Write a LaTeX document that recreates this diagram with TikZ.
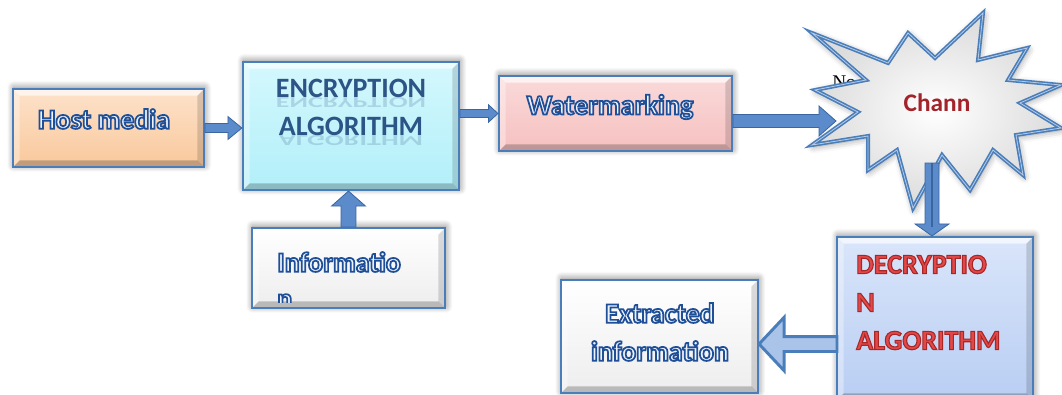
\documentclass[tikz,border=0pt]{standalone}
\usepackage{fontspec}
\setmainfont{Carlito}
\newfontfamily\notefont{Liberation Serif}
\usetikzlibrary{calc,shadows.blur}

\definecolor{frameblue}{HTML}{4A7EBB}
\definecolor{arrowfill}{HTML}{5B8BCB}
\definecolor{arrowedge}{HTML}{3A659E}
\definecolor{arrowlight}{HTML}{A9C4E8}
\definecolor{paleink}{HTML}{EEF4FF}
\definecolor{peach}{HTML}{F9C89C}
\definecolor{peachtop}{HTML}{FDE2CA}
\definecolor{cyanfill}{HTML}{B2EFF9}
\definecolor{cyantop}{HTML}{D4F8FD}
\definecolor{pinkfill}{HTML}{F6C0C0}
\definecolor{pinktop}{HTML}{FADADA}
\definecolor{bluefill}{HTML}{B9CEF3}
\definecolor{bluetop}{HTML}{D9E5FA}
\definecolor{encink}{HTML}{2D5486}
\definecolor{chanred}{HTML}{A3232B}
\definecolor{decred}{HTML}{E24848}

% outlined lettering: stroke colour (r g b), stroke width, text
\newcommand{\outlined}[3]{%
  \special{pdf:literal direct #1 RG 2 Tr #2 w}#3\special{pdf:literal direct 0 Tr 0.4 w}}
\newcommand{\blueoutline}[1]{\outlined{0.12 0.31 0.59}{1.3}{#1}}
\newcommand{\redoutline}[1]{\outlined{0.66 0.15 0.15}{0.8}{#1}}

% block arrow: [style]{tail}{tip}{half body}{half head}{head length}
\newcommand{\blockarrow}[6][]{%
  \path (#2) coordinate (ba-s) (#3) coordinate (ba-e);
  \path ($(ba-e)!#6!(ba-s)$) coordinate (ba-h);
  \filldraw[arrowbody,#1]
    ($(ba-s)!#4!90:(ba-e)$) -- ($(ba-h)!#4!-90:(ba-s)$) --
    ($(ba-h)!#5!-90:(ba-s)$) -- (ba-e) -- ($(ba-h)!#5!90:(ba-s)$) --
    ($(ba-h)!#4!90:(ba-s)$) -- ($(ba-s)!#4!-90:(ba-e)$) -- cycle;
}

\tikzset{
  boxshadow/.style={blur shadow={shadow xshift=0.6pt, shadow yshift=1.2pt,
      shadow blur radius=5pt, shadow blur steps=10, shadow opacity=50}},
  bevel/.style={path picture={
      \path (path picture bounding box.south west) coordinate (bvsw)
            (path picture bounding box.north east) coordinate (bvne)
            (path picture bounding box.north west) coordinate (bvnw)
            (path picture bounding box.south east) coordinate (bvse);
      \path ($(bvsw)+(5pt,5pt)$) coordinate (bvisw)
            ($(bvne)+(-5pt,-5pt)$) coordinate (bvine);
      \path (bvisw |- bvine) coordinate (bvinw) (bvine |- bvisw) coordinate (bvise);
      \fill[white,opacity=.65] (bvnw) -- (bvne) -- (bvine) -- (bvinw) -- cycle;
      \fill[white,opacity=.35] (bvnw) -- (bvinw) -- (bvisw) -- (bvsw) -- cycle;
      \fill[black,opacity=.22] (bvsw) -- (bvisw) -- (bvise) -- (bvse) -- cycle;
      \fill[black,opacity=.14] (bvse) -- (bvise) -- (bvine) -- (bvne) -- cycle;
    }},
  bevelbox/.style 2 args={draw=frameblue, line width=1.6pt, inner sep=0pt,
      top color=#2, bottom color=#1, boxshadow, bevel},
  outtext/.style={font=\fontsize{21}{28.5}\selectfont\bfseries, text=paleink,
      align=center, inner sep=0pt},
  enctext/.style={font=\fontsize{21}{28.5}\selectfont\bfseries, text=encink,
      inner sep=0pt, anchor=base},
  dectext/.style={font=\fontsize{21}{28.5}\selectfont\bfseries, text=decred,
      align=left, inner sep=0pt},
  arrowbody/.style={fill=arrowfill, draw=arrowedge, line width=0.6pt, line join=miter},
  hollowarrow/.style={fill=arrowlight, draw=frameblue, line width=2.2pt},
}

\begin{document}
\begin{tikzpicture}[x=0.75pt,y=-0.75pt]
\useasboundingbox (0,0) rectangle (1062,394);
\clip (0,0) rectangle (1062,394);

% boxes
\node[bevelbox={peach}{peachtop}, minimum width=143.25pt, minimum height=58.5pt]
  (host) at (108.5,128) {};
\node[bevelbox={cyanfill}{cyantop}, minimum width=162pt, minimum height=96pt]
  (enc) at (351,126) {};
\node[bevelbox={white!93!black}{white}, minimum width=144.75pt, minimum height=60pt]
  (info) at (348.5,268) {};
\node[bevelbox={pinkfill}{pinktop}, minimum width=174.75pt, minimum height=56.25pt]
  (wm) at (615.5,113.5) {};
\node[bevelbox={bluefill}{bluetop}, minimum width=147pt, minimum height=122.25pt]
  (dec) at (935,318.5) {};
\node[bevelbox={white!93!black}{white}, minimum width=147.75pt, minimum height=84.75pt]
  (ext) at (659.5,336.5) {};

% box labels
\node[outtext] (hosttxt) at (104,119) {\blueoutline{Host media}};
\node[outtext] (wmtxt) at (610,107) {\blueoutline{Watermarking}};
\node[outtext, anchor=west] (infotxt) at (277,262) {\blueoutline{Informatio}};
\begin{scope}
  \clip ($(info.south west)+(5pt,5pt)$) rectangle ($(info.north east)+(-5pt,-5pt)$);
  \node[outtext, anchor=base west] (infotail) at (277,308) {\blueoutline{n}};
\end{scope}
\node[outtext] (exttxt) at (660,332) {\blueoutline{Extracted\\information}};

% encryption label with its reflection
\node[enctext] (enc1) at (351,97.8) {ENCRYPTION};
\node[enctext] (enc2) at (351,135.8) {ALGORITHM};
\begin{scope}[shift={(351,97.8)}, yscale=-0.55]
  \node[enctext, transform shape, text opacity=0.2] (enc1r) at (0,0) {ENCRYPTION};
\end{scope}
\begin{scope}[shift={(351,135.8)}, yscale=-0.55]
  \node[enctext, transform shape, text opacity=0.2] (enc2r) at (0,0) {ALGORITHM};
\end{scope}

% decryption label
\node[dectext, anchor=west] (dectxt) at (856,302.5)
  {\redoutline{DECRYPTIO\\N\\ALGORITHM}};

% note text partly hidden by the channel burst
\node[font=\notefont\fontsize{14.5}{16}\selectfont, anchor=base west, inner sep=0pt]
  (note) at (832,88) {No};

% channel burst: blue rim, thin light inner rim, pale radial fill
\def\burst{(812,33) -- (888,63) -- (908,33) -- (935,58) -- (983,13) -- (978,60) --
  (1027,48) -- (1008,80) -- (1061,85) -- (1020,103) -- (1061,128) -- (1016,135) --
  (1023,175) -- (993,150) -- (970,190) -- (942,155) -- (913,208) -- (897,150) --
  (868,170) -- (868,136) -- (812,145) -- (858,112) -- (815,90) -- (866,80) -- cycle}
\path[draw=frameblue, line width=3pt, line join=miter,
      shade, inner color=white, outer color=black!14,
      blur shadow={shadow xshift=1pt, shadow yshift=-1.5pt, shadow blur radius=5pt, shadow opacity=40}]
  \burst;
\draw[white, opacity=0.6, line width=0.6pt, line join=miter] \burst;
\node[font=\fontsize{19}{21}\selectfont\bfseries, text=chanred, inner sep=0pt]
  (chan) at (937,103) {Chann};

\coordinate (chin) at (836,121);
\coordinate (chout) at (932,163);
\coordinate (decout) at (837,344);

% connectors
\blockarrow{host.east}{enc.west |- host.east}{3.4pt}{8.6pt}{10.5pt}
\blockarrow{enc.east |- wm.west}{wm.west}{3pt}{6.5pt}{7pt}
\blockarrow{info.north}{info.north |- enc.south}{5.6pt}{12.75pt}{11.25pt}
\blockarrow{wm.east |- chin}{chin}{4.9pt}{11.25pt}{12.75pt}
\blockarrow{chout}{chout |- dec.north}{5.25pt}{12.75pt}{9pt}
\draw[arrowedge, line width=0.8pt] (chout) -- ($(chout |- dec.north)+(0,7pt)$);
\blockarrow[hollowarrow]{decout}{ext.east |- decout}{5.6pt}{20pt}{18.75pt}
\end{tikzpicture}
\end{document}
